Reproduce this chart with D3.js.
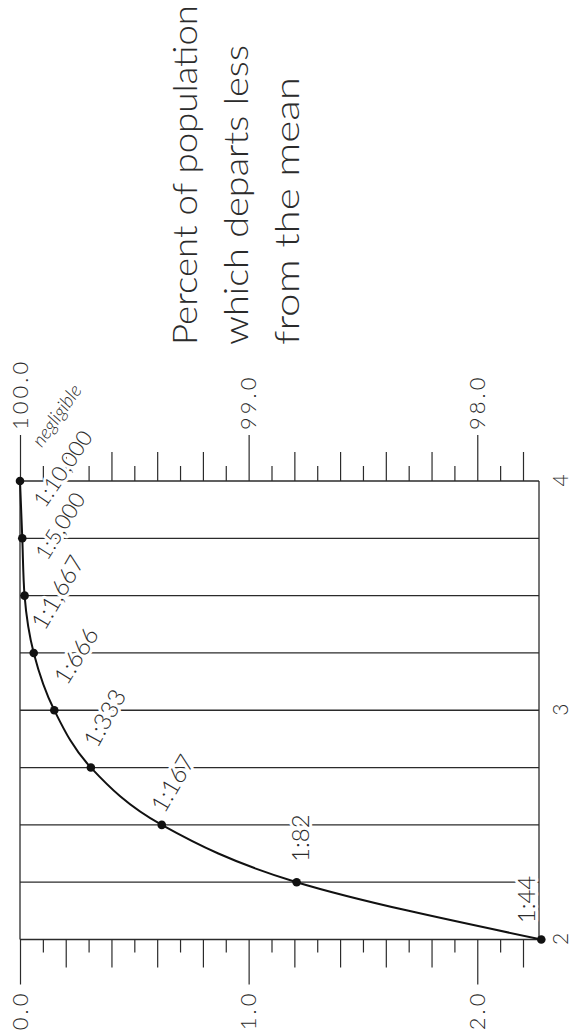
<!DOCTYPE html>
<html>
<head>
<meta charset="utf-8">
<script src="https://cdn.jsdelivr.net/npm/d3@7"></script>
<style>
  body { margin: 0; background: #fff; }
  svg text { font-family: Lato, "Open Sans", sans-serif; font-weight: 300; fill: #2b2b2b; }
  .grid line, .frame line { stroke: #2b2b2b; stroke-width: 1.3; }
  .tick line { stroke: #2b2b2b; stroke-width: 1.2; }
  .halo { stroke: #fff; stroke-width: 6px; stroke-linejoin: round; paint-order: stroke; }
</style>
</head>
<body>
<div id="chart-area"></div>
<script>
// data (deviation in sigma vs. percent beyond it)
const sigma = [2, 2.25, 2.5, 2.75, 3, 3.25, 3.5, 3.75, 4]
const pctBeyond = [2.28, 1.21, 0.62, 0.31, 0.15, 0.06, 0.02, 0.01, 0]
const ratioLabels = ["1:44", "1:82", "1:167", "1:333", "1:666", "1:1,667", "1:5,000", "1:10,000", "negligible"]

const gridSigma = [2.25, 2.5, 2.75, 3, 3.25, 3.5, 3.75]
const xTicks = [2, 3, 4]
const xTickLabels = ["2", "3", "4"]
const leftTicks = [0, 1, 2]
const leftTickLabels = ["0.0", "1.0", "2.0"]
const rightTickLabels = ["100.0", "99.0", "98.0"]
const titleLines = ["Percent of population", "which departs less", "from the mean"]

// page is 574 x 1032, chart is drawn upright and then turned a quarter to the left
const PAGE_W = 574, PAGE_H = 1032
const MARGIN = { LEFT: 92.5, TOP: 20 }
const WIDTH = 458.5
const HEIGHT = 519

const svg = d3.select("#chart-area").append("svg")
  .attr("width", PAGE_W)
  .attr("height", PAGE_H)

const page = svg.append("g")
  .attr("transform", `translate(0, ${PAGE_H}) rotate(-90)`)

const g = page.append("g")
  .attr("transform", `translate(${MARGIN.LEFT}, ${MARGIN.TOP})`)

// Scales
const x = d3.scaleLinear()
  .domain([2, 4])
  .range([0, WIDTH])

const y = d3.scaleLinear()
  .domain([0, 2.27])
  .range([0, HEIGHT])

// frame + gridlines
const frame = g.append("g").attr("class", "frame")
frame.append("line").attr("x1", x(2)).attr("x2", x(4)).attr("y1", y(0)).attr("y2", y(0))
frame.append("line").attr("x1", x(2)).attr("x2", x(4)).attr("y1", HEIGHT).attr("y2", HEIGHT)
frame.append("line").attr("x1", x(2)).attr("x2", x(2)).attr("y1", 0).attr("y2", HEIGHT)
frame.append("line").attr("x1", x(4)).attr("x2", x(4)).attr("y1", 0).attr("y2", HEIGHT)

g.append("g").attr("class", "grid")
  .selectAll("line")
  .data(gridSigma)
  .enter().append("line")
    .attr("x1", d => x(d))
    .attr("x2", d => x(d))
    .attr("y1", 0)
    .attr("y2", HEIGHT)

// tick classes: odd tenths short, even tenths long, whole numbers long + label
const oddTenths = d3.range(1, 23, 2).map(i => i / 10)
const evenTenths = d3.range(2, 23, 2).filter(i => i % 10 !== 0).map(i => i / 10)

function addTicks(axisFn, values, size, fmt, pad, shift) {
  const ax = axisFn(y)
    .tickValues(values)
    .tickSize(size)
    .tickSizeOuter(0)
    .tickPadding(pad || 3)
    .tickFormat(fmt || "")
  const sel = g.append("g")
    .attr("transform", `translate(${shift}, 0)`)
    .call(ax)
  sel.select(".domain").remove()
  return sel
}

// left axis (percent beyond)
addTicks(d3.axisLeft, oddTenths, 13, null, 3, 0)
addTicks(d3.axisLeft, evenTenths, 28, null, 3, 0)
addTicks(d3.axisLeft, leftTicks, 45, (d, i) => leftTickLabels[i], 6, 0)
  .selectAll(".tick text")
    .attr("class", "halo")
    .style("font-size", "22px")
    .style("letter-spacing", "3px")

// right axis (percent within)
addTicks(d3.axisRight, oddTenths, 15, null, 3, WIDTH)
addTicks(d3.axisRight, evenTenths, 29, null, 3, WIDTH)
addTicks(d3.axisRight, leftTicks, 46, (d, i) => rightTickLabels[i], 5, WIDTH)
  .selectAll(".tick text")
    .attr("class", "halo")
    .style("font-size", "22px")
    .style("letter-spacing", "3px")

// sigma axis labels
const xAxisCall = d3.axisBottom(x)
  .tickValues(xTicks)
  .tickSize(0)
  .tickFormat((d, i) => xTickLabels[i])
const xAxis = g.append("g")
  .attr("transform", `translate(0, ${HEIGHT})`)
  .call(xAxisCall)
xAxis.select(".domain").remove()
xAxis.selectAll(".tick text")
  .attr("y", 22)
  .attr("dy", "0.35em")
  .style("font-size", "21px")

// curve
const points = sigma.map((s, i) => ({ s: s, p: pctBeyond[i], label: ratioLabels[i] }))

const line = d3.line()
  .x(d => x(d.s))
  .y(d => y(d.p))
  .curve(d3.curveMonotoneX)

// ratio labels sit next to each point: offset (dx, dy) and tilt
const labelPlace = [
  { dx: 40, dy: -16, a: 0, size: 24 },
  { dx: 44, dy: 3, a: 0, size: 24 },
  { dx: 42, dy: 10, a: 30, size: 24 },
  { dx: 50, dy: 13, a: 29, size: 24 },
  { dx: 55, dy: 21, a: 32, size: 24 },
  { dx: 61, dy: 23, a: 30, size: 24 },
  { dx: 70, dy: 35, a: 32, size: 22 },
  { dx: 70, dy: 40, a: 34, size: 22 },
  { dx: 66, dy: 36, a: 35, size: 19 }
]

g.selectAll(".ratio")
  .data(points)
  .enter().append("text")
    .attr("class", "ratio halo")
    .attr("text-anchor", "middle")
    .attr("dominant-baseline", "central")
    .attr("transform", (d, i) => {
      const L = labelPlace[i]
      return `translate(${x(d.s) + L.dx}, ${y(d.p) + L.dy}) rotate(${L.a})`
    })
    .style("font-size", (d, i) => labelPlace[i].size + "px")
    .style("font-style", (d, i) => i === points.length - 1 ? "italic" : "normal")
    .text(d => d.label)

g.append("path")
  .datum(points)
  .attr("d", line)
  .attr("fill", "none")
  .attr("stroke", "#111")
  .attr("stroke-width", 2)

g.selectAll("circle")
  .data(points)
  .enter().append("circle")
    .attr("cx", d => x(d.s))
    .attr("cy", d => y(d.p))
    .attr("r", 4.3)
    .attr("fill", "#111")

// title, right of the chart
const titleLen = [340, 300, 268]
page.append("g")
  .attr("transform", "translate(687, 0)")
  .selectAll("text")
  .data(titleLines)
  .enter().append("text")
    .attr("x", 0)
    .attr("y", (d, i) => 197 + i * 51)
    .attr("textLength", (d, i) => titleLen[i])
    .attr("lengthAdjust", "spacingAndGlyphs")
    .style("font-size", "34px")
    .text(d => d)
</script>
</body>
</html>
